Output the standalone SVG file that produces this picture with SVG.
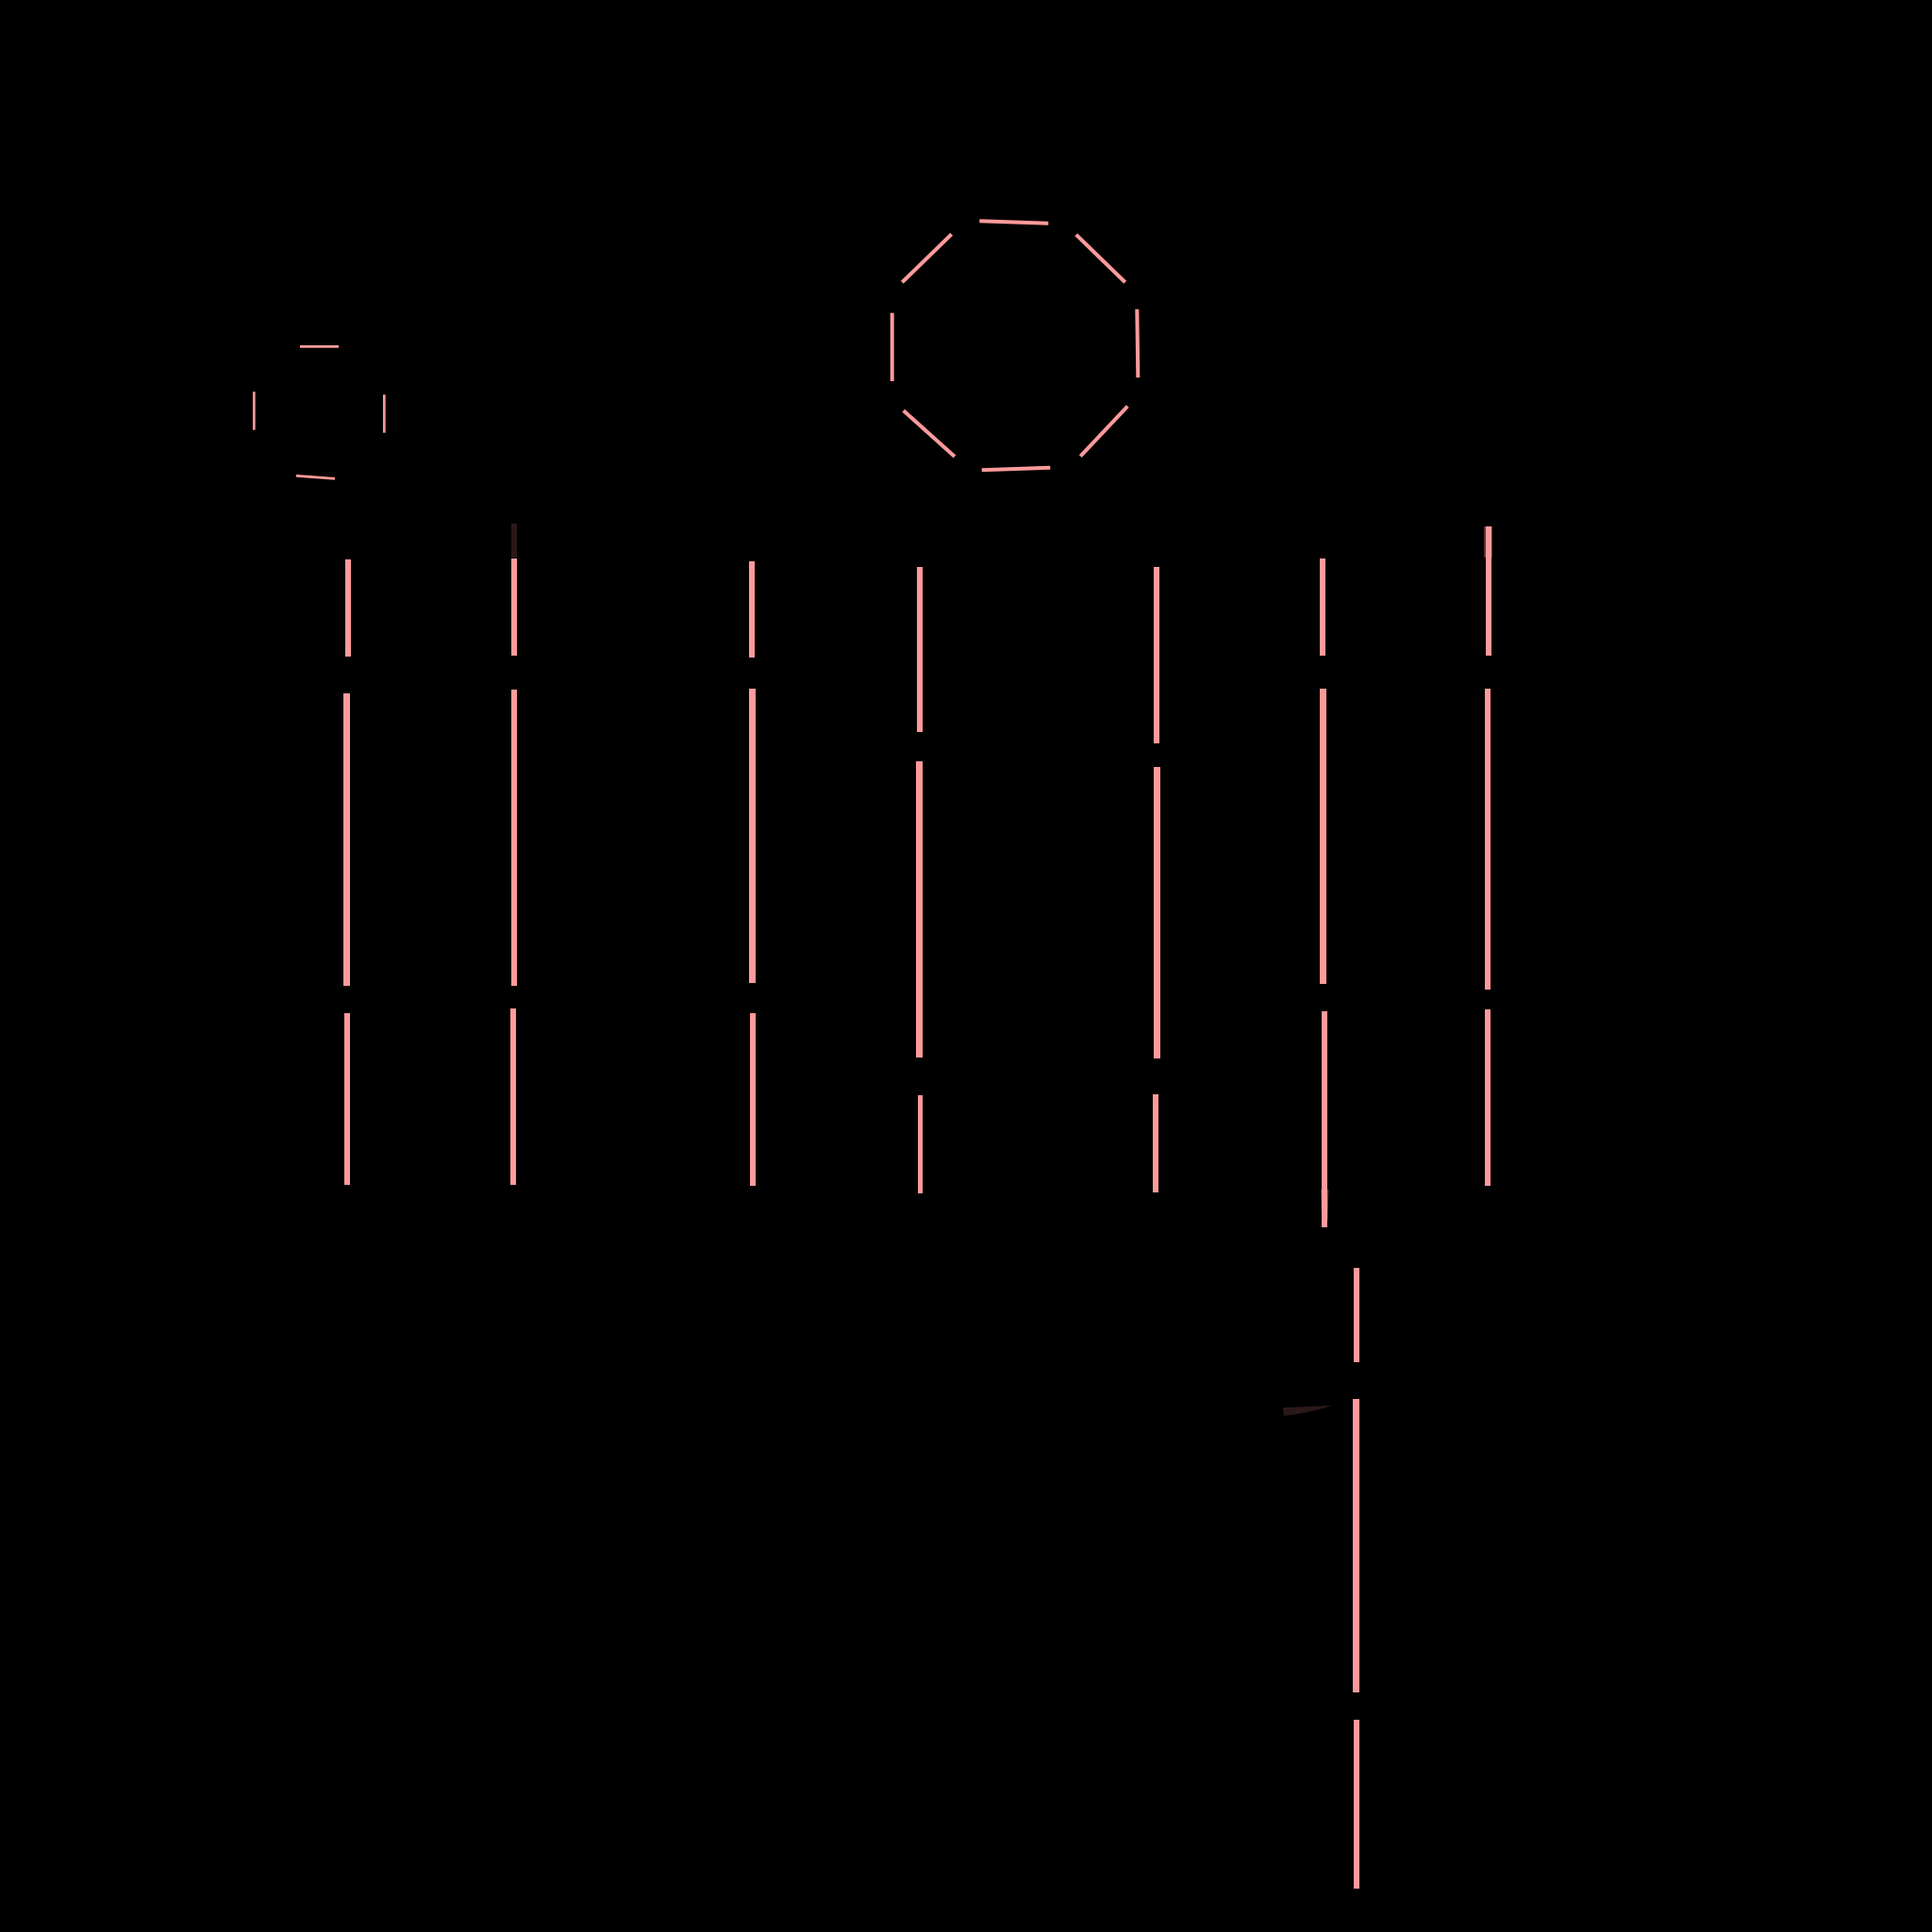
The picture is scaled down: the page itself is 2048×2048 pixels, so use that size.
<svg xmlns="http://www.w3.org/2000/svg" width="2048" height="2048" viewBox="0 0 2048 2048">
<style>
.s{stroke:#ff9a9a;fill:none;stroke-linecap:butt}
.t{stroke-width:4}
.q{stroke-width:2.7}
.v{fill:#ff9a9a}
.d{fill:#2b1818}
.f{fill:#ff9a9a;opacity:0.35}
</style>
<rect x="0" y="0" width="2048" height="2048" fill="#000"/>
<g id="octagon">
<line class="s t" x1="1038.3" y1="234.3" x2="1111.3" y2="236.7"/>
<line class="s t" x1="1140.7" y1="248.7" x2="1192.7" y2="299.3"/>
<line class="s t" x1="1205.3" y1="327.7" x2="1206.3" y2="400.3"/>
<line class="s t" x1="1195.3" y1="430.7" x2="1145.3" y2="483.7"/>
<line class="s t" x1="1113.3" y1="495.7" x2="1040.7" y2="498.3"/>
<line class="s t" x1="1012" y1="484" x2="957.7" y2="435.3"/>
<line class="s t" x1="945.7" y1="331.7" x2="945.7" y2="404"/>
<line class="s t" x1="1008.7" y1="248.3" x2="956.3" y2="299.3"/>
</g>
<g id="square">
<line class="s q" x1="318" y1="367.3" x2="359" y2="367.3"/>
<line class="s q" x1="269.3" y1="415.3" x2="269.3" y2="455.7"/>
<line class="s q" x1="407.3" y1="418.3" x2="407.3" y2="458.7"/>
<line class="s q" x1="314" y1="504.3" x2="355" y2="507.3"/>
</g>
<g id="colA">
<rect class="v" x="366" y="593" width="6" height="103"/>
<rect class="v" x="364" y="735" width="7" height="310"/>
<rect class="v" x="365" y="1074" width="6" height="182"/>
</g>
<g id="colB">
<rect class="d" x="542" y="555" width="6" height="36"/>
<rect class="v" x="542" y="592" width="6" height="103"/>
<rect class="v" x="542" y="731" width="6" height="314"/>
<rect class="v" x="541" y="1069" width="6" height="187"/>
</g>
<g id="colC">
<rect class="v" x="794" y="595" width="6" height="102"/>
<rect class="v" x="794" y="730" width="7" height="312"/>
<rect class="v" x="795" y="1074" width="6" height="183"/>
</g>
<g id="colD">
<rect class="v" x="972" y="601" width="6" height="175"/>
<rect class="v" x="971" y="807" width="7" height="314"/>
<rect class="v" x="973" y="1161" width="5" height="104"/>
</g>
<g id="colE">
<rect class="v" x="1223" y="601" width="6" height="187"/>
<rect class="v" x="1223" y="813" width="7" height="309"/>
<rect class="v" x="1222" y="1160" width="6" height="104"/>
</g>
<g id="colF">
<rect class="v" x="1399" y="592" width="6" height="103"/>
<rect class="v" x="1399" y="730" width="7" height="313"/>
<polygon class="f" points="1400,1261 1408.5,1261 1407.5,1293 1401,1293"/>
<rect class="v" x="1401" y="1072" width="6" height="229"/>
</g>
<g id="colG">
<rect class="f" x="1573" y="558" width="9" height="33"/>
<rect class="v" x="1575" y="558" width="6" height="137"/>
<rect class="v" x="1574" y="730" width="6" height="319"/>
<rect class="v" x="1574" y="1070" width="6" height="187"/>
</g>
<g id="colH">
<rect class="v" x="1435" y="1344" width="6" height="100"/>
<rect class="v" x="1434" y="1483" width="7" height="311"/>
<rect class="v" x="1435" y="1823" width="6" height="179"/>
</g>
<path id="stroke" class="d" d="M1360,1492 L1412,1490 Q1392,1497 1361,1501 Z"/>
</svg>
